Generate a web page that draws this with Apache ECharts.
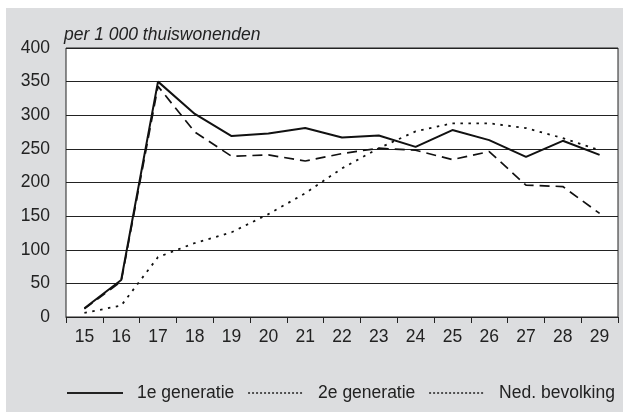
<!DOCTYPE html>
<html>
<head>
<meta charset="utf-8">
<script src="https://cdn.jsdelivr.net/npm/echarts@6/dist/echarts.min.js"></script>
<style>
html,body{margin:0;padding:0;background:#fff;}
#bg{position:absolute;left:6px;top:8px;width:617px;height:404px;background:#dcdddf;}
#chart{position:absolute;left:0;top:0;width:627px;height:417px;}
</style>
</head>
<body>
<div id="bg"></div>
<div id="chart"></div>
<script>
const categories = ['15','16','17','18','19','20','21','22','23','24','25','26','27','28','29'];
const gen1 = [13, 55, 350, 302, 269, 273, 281, 267, 270, 253, 278, 263, 238, 262, 241];
const gen2 = [12, 53, 343, 275, 239, 241, 232, 243, 251, 248, 234, 246, 196, 194, 154];
const ned  = [6, 17, 89, 110, 126, 153, 184, 221, 251, 276, 288, 288, 281, 266, 248];
const yTicks = {min: 0, max: 400, step: 50};
const titleText = 'per 1 000 thuiswonenden';
const names = ['1e generatie', '2e generatie', 'Ned. bevolking'];

const chart = echarts.init(document.getElementById('chart'), null, {renderer: 'canvas'});
const txt = '#222';
const font = 'Liberation Sans, Arial, sans-serif';
chart.setOption({
  backgroundColor: 'transparent',
  animation: false,
  title: {
    text: titleText, left: 59, top: 21,
    textStyle: {fontStyle: 'italic', fontWeight: 'normal', fontSize: 17.5, color: txt, fontFamily: font}
  },
  grid: {left: 66, top: 48, right: 9, bottom: 100, show: true, backgroundColor: '#fff', borderColor: '#222', borderWidth: 1},
  legend: {
    top: 379, left: 61, itemWidth: 56, itemHeight: 14, itemGap: 13,
    itemStyle: {opacity: 0},
    textStyle: {fontSize: 17.5, color: txt, fontFamily: font, padding: [0, 0, 0, 9]},
    data: [
      {name: names[0], itemStyle: {opacity: 0}, lineStyle: {type: 'solid', width: 2, color: '#222'}},
      {name: names[1], itemStyle: {opacity: 0}, lineStyle: {type: [2, 2], width: 1.5, color: '#222'}},
      {name: names[2], itemStyle: {opacity: 0}, lineStyle: {type: [2, 2], width: 1.5, color: '#222'}}
    ]
  },
  xAxis: {
    type: 'category', data: categories, boundaryGap: true,
    axisLine: {show: true, lineStyle: {color: '#222', width: 1}},
    axisTick: {show: true, length: 6, lineStyle: {color: '#222'}},
    axisLabel: {fontSize: 17.5, color: txt, fontFamily: font, margin: 11}
  },
  yAxis: {
    type: 'value', min: yTicks.min, max: yTicks.max, interval: yTicks.step,
    axisLine: {show: false}, axisTick: {show: false},
    splitLine: {show: true, lineStyle: {color: '#222', width: 1}},
    axisLabel: {fontSize: 17.5, color: txt, fontFamily: font, margin: 16}
  },
  series: [
    {name: names[0], type: 'line', data: gen1, symbol: 'none', lineStyle: {color: '#111', width: 2, type: 'solid'}, itemStyle: {color: '#111'}},
    {name: names[1], type: 'line', data: gen2, symbol: 'none', lineStyle: {color: '#111', width: 1.7, type: [10, 6]}, itemStyle: {color: '#111'}},
    {name: names[2], type: 'line', data: ned, symbol: 'none', lineStyle: {color: '#111', width: 1.8, type: [2.5, 5.5]}, itemStyle: {color: '#111'}}
  ]
});
</script>
</body>
</html>
